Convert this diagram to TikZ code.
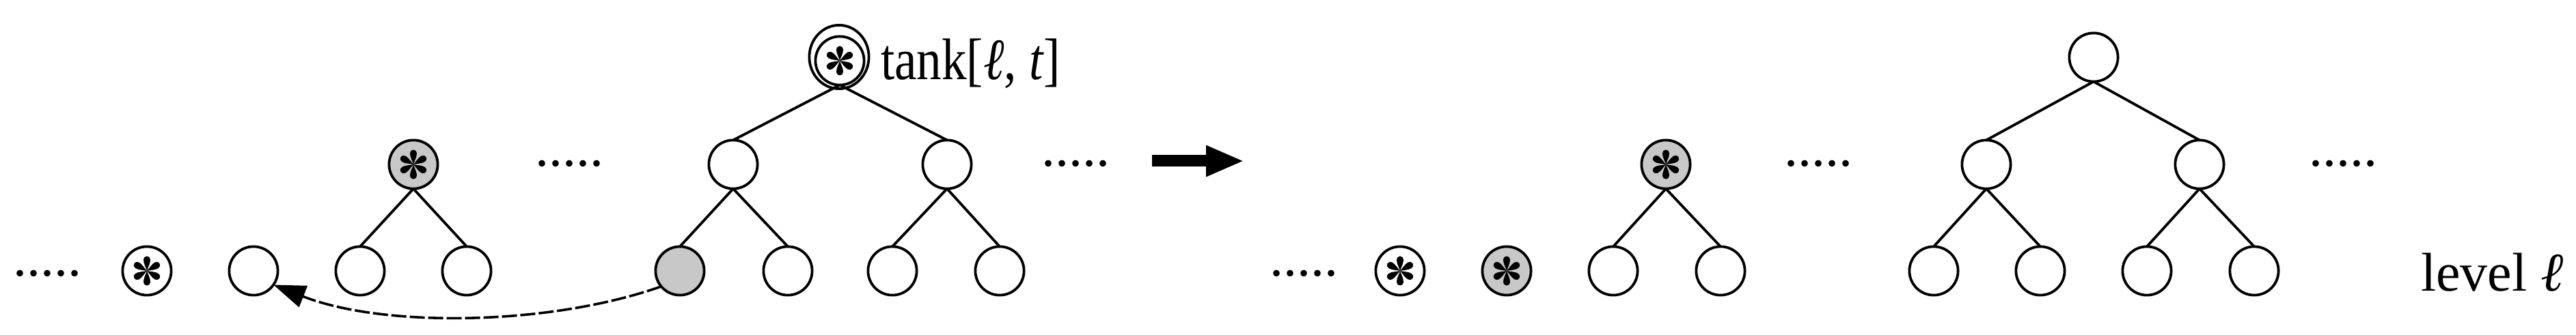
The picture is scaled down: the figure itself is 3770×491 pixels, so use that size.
\documentclass[tikz,border=0pt]{standalone}
\usepackage{fontspec}
\usepackage{graphicx}
\setmainfont{Liberation Serif}
\usetikzlibrary{arrows.meta,shapes.geometric}
\definecolor{nodegray}{RGB}{200,200,200}
\newcommand\petalstar[1]{%
  \begin{scope}[shift={(#1.center)}]
    \foreach \a in {0,60,...,300}
      \fill[rotate=\a] (0,0) .. controls (1.8,6) and (5,10.5) .. (5,16.5)
        arc[start angle=0,end angle=180,radius=5]
        .. controls (-5,10.5) and (-1.8,6) .. (0,0) -- cycle;
  \end{scope}}
\tikzset{
  nd/.style={circle, draw, line width=0.95pt, minimum size=17.8pt, inner sep=0pt, outer sep=0pt, fill=white},
  gnd/.style={nd, fill=nodegray},
  treeline/.style={line width=0.95pt},
  txt/.style={inner sep=0pt, outer sep=0pt, anchor=base west, font=\fontsize{20pt}{24pt}\selectfont},
  dashline/.style={line width=0.9pt, dash pattern=on 5.5pt off 1.25pt, -{Triangle[length=11.75pt,width=8.25pt]}},
  bigarrow/.style={line width=4.25pt, -{Triangle[length=14pt,width=10.5pt]}}
}
\begin{document}
\begin{tikzpicture}[x=0.25pt,y=0.25pt]
\useasboundingbox (0,0) rectangle (3770,491);
% ---------- left part ----------
\node[txt] (dL1) at (20,86) {.....};
\node[nd] (ws1) at (215,94) {};
\node[nd] (e1) at (371,94) {};
\node[gnd] (gs1) at (605,250) {};
\node[nd] (c1) at (527,94) {};
\node[nd] (c2) at (683,94) {};
\node[txt] (dL2) at (783,247) {.....};
\node[nd] (R1) at (1229,402) {};
\node[draw, ellipse, line width=0.95pt, minimum width=21.8pt, minimum height=23.3pt, inner sep=0pt] (R1o) at (1228,407.5) {};
\node[txt, font=\fontsize{21.5pt}{25pt}\selectfont] (tank) at (1289,374) {\scalebox{0.85}[1]{tank[\textit{ℓ}, \textit{t}]}};
\node[nd] (m1) at (1073,250) {};
\node[nd] (m2) at (1386,250) {};
\node[gnd] (b1) at (995,94) {};
\node[nd] (b2) at (1153,94) {};
\node[nd] (b3) at (1306,94) {};
\node[nd] (b4) at (1463,94) {};
\node[txt] (dL3) at (1524,247) {.....};
\coordinate (a1) at (1686,255);
\coordinate (a2) at (1821,255);
% ---------- right part ----------
\node[txt] (dR1) at (1858,86) {.....};
\node[nd] (ws2) at (2049,94) {};
\node[gnd] (gs2) at (2205,94) {};
\node[gnd] (gs3) at (2438,250) {};
\node[nd] (c3) at (2361,94) {};
\node[nd] (c4) at (2518,94) {};
\node[txt] (dR2) at (2611,247) {.....};
\node[nd] (R2) at (3064,407) {};
\node[nd] (n1) at (2907,250) {};
\node[nd] (n2) at (3219,250) {};
\node[nd] (f1) at (2830,94) {};
\node[nd] (f2) at (2986,94) {};
\node[nd] (f3) at (3142,94) {};
\node[nd] (f4) at (3299,94) {};
\node[txt] (dR3) at (3379,247) {.....};
\node[txt] (lev) at (3543,64) {level \textit{ℓ}};
% ---------- edges ----------
\foreach \p/\c in {gs1/c1, gs1/c2, R1/m1, R1/m2, m1/b1, m1/b2, m2/b3, m2/b4,
                   gs3/c3, gs3/c4, R2/n1, R2/n2, n1/f1, n1/f2, n2/f3, n2/f4}
  \draw[treeline] (\p.south) -- (\c.north);
% ---------- stars ----------
\petalstar{ws1}
\petalstar{gs1}
\petalstar{R1}
\petalstar{ws2}
\petalstar{gs2}
\petalstar{gs3}
% ---------- arrows ----------
\draw[dashline] (b1.220) .. controls +(-165,-58) and +(160,-63) .. (e1.-35);
\draw[bigarrow] (a1) -- (a2);
\end{tikzpicture}
\end{document}
